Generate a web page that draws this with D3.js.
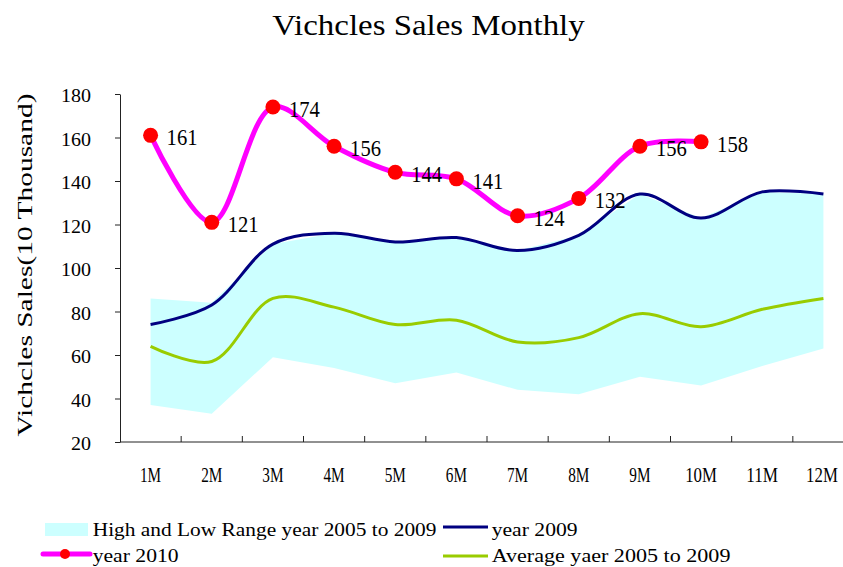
<!DOCTYPE html>
<html>
<head>
<meta charset="utf-8">
<script src="https://cdn.jsdelivr.net/npm/d3@7"></script>
<style>
    body { margin: 0; background: #fff; }
    svg { display: block; }
    text { font-family: "Liberation Serif", serif; fill: #000; }
</style>
</head>
<body>
<svg id="chart" width="843" height="567"></svg>
<script>
const months = ["1M", "2M", "3M", "4M", "5M", "6M", "7M", "8M", "9M", "10M", "11M", "12M"]
const rangeHigh = [86, 84, 111, 116, 112, 114, 108, 115, 134, 123, 135, 134]
const rangeLow = [37, 33, 59, 54, 47, 52, 44, 42, 50, 46, 55, 63]
const year2009 = [74, 83, 111, 116, 112, 114, 108, 115, 134, 123, 135, 134]
const average = [64, 57, 86, 82, 74, 76, 66, 68, 79, 73, 81, 86]
const year2010 = [161, 121, 174, 156, 144, 141, 124, 132, 156, 158]
const yTicks = [20, 40, 60, 80, 100, 120, 140, 160, 180]

const svg = d3.select("#chart")

const x = d3.scaleBand().domain(months).range([120, 854])
const y = d3.scaleLinear().domain([20, 180]).range([442, 94])
const cx = m => x(m) + x.bandwidth() / 2

// fixed-width text, the original uses a half-width CJK font
const label = (g, str, cw, size) => g
    .text(str)
    .attr("font-size", size)
    .attr("textLength", str.length * cw)
    .attr("lengthAdjust", "spacingAndGlyphs")

// range band
const area = d3.area()
    .x((d, i) => cx(months[i]))
    .y0((d, i) => y(rangeLow[i]))
    .y1(d => y(d))

svg.append("path")
    .datum(rangeHigh)
    .attr("fill", "#CCFFFF")
    .attr("d", area)

const drawLine = (data, color, width) => {
    const line = d3.line()
        .curve(d3.curveCatmullRom.alpha(0.5))
        .x((d, i) => cx(months[i]))
        .y(d => y(d))

    svg.append("path")
        .datum(data)
        .attr("fill", "none")
        .attr("stroke", color)
        .attr("stroke-width", width)
        .attr("stroke-linejoin", "round")
        .attr("d", line)
}

drawLine(year2009, "#000080", 3)
drawLine(average, "#99CC00", 3)
drawLine(year2010, "#FF00FF", 5)

svg.selectAll("circle.pt")
    .data(year2010)
    .enter()
    .append("circle")
    .attr("class", "pt")
    .attr("cx", (d, i) => cx(months[i]))
    .attr("cy", d => y(d))
    .attr("r", 7.5)
    .attr("fill", "#FF0000")

svg.selectAll("text.val")
    .data(year2010)
    .enter()
    .append("text")
    .attr("class", "val")
    .attr("x", (d, i) => cx(months[i]) + 16)
    .attr("y", d => y(d) + 10)
    .each(function (d) { label(d3.select(this), String(d), 10.3, 23) })

// y axis
const yAxis = svg.append("g")
    .attr("transform", "translate(120,0)")
    .call(d3.axisLeft(y).tickValues(yTicks).tickSize(5).tickPadding(24).tickSizeOuter(0))

yAxis.select(".domain").attr("stroke", "#222")
yAxis.selectAll(".tick line").attr("stroke", "#222")
yAxis.selectAll(".tick text")
    .attr("dy", "0.42em")
    .attr("fill", "#000")
    .each(function (d) { label(d3.select(this), String(d), 10, 19) })

// x axis, ticks sit between categories and point into the plot
svg.append("line")
    .attr("x1", 120).attr("x2", 854)
    .attr("y1", y(20)).attr("y2", y(20))
    .attr("stroke", "#222")

svg.selectAll("line.xt")
    .data(months.slice(1).concat(["end"]))
    .enter()
    .append("line")
    .attr("class", "xt")
    .attr("x1", d => d === "end" ? 854 : x(d))
    .attr("x2", d => d === "end" ? 854 : x(d))
    .attr("y1", y(20))
    .attr("y2", y(20) - 6)
    .attr("stroke", "#222")

svg.selectAll("text.xl")
    .data(months)
    .enter()
    .append("text")
    .attr("class", "xl")
    .attr("x", d => Math.min(cx(d), 822))
    .attr("y", 482)
    .attr("text-anchor", "middle")
    .each(function (d) { label(d3.select(this), d, 10.6, 21) })

// titles
svg.append("text")
    .attr("x", 428.5)
    .attr("y", 35)
    .attr("text-anchor", "middle")
    .call(label, "Vichcles Sales Monthly", 14.2, 29)

svg.append("text")
    .attr("transform", "translate(32,265) rotate(-90)")
    .attr("text-anchor", "middle")
    .call(label, "Vichcles Sales(10 Thousand)", 12.7, 22)

// legend
const legend = svg.append("g")

legend.append("rect")
    .attr("x", 45).attr("y", 523)
    .attr("width", 43).attr("height", 13)
    .attr("fill", "#CCFFFF")

legend.append("line")
    .attr("x1", 443).attr("x2", 488)
    .attr("y1", 527).attr("y2", 527)
    .attr("stroke", "#000080").attr("stroke-width", 3)

legend.append("line")
    .attr("x1", 43).attr("x2", 90)
    .attr("y1", 554).attr("y2", 554)
    .attr("stroke", "#FF00FF").attr("stroke-width", 5)
    .attr("stroke-linecap", "round")

legend.append("circle")
    .attr("cx", 65).attr("cy", 554).attr("r", 5)
    .attr("fill", "#FF0000")

legend.append("line")
    .attr("x1", 443).attr("x2", 488)
    .attr("y1", 556).attr("y2", 556)
    .attr("stroke", "#99CC00").attr("stroke-width", 3)

const legendItems = [
    ["High and Low Range year 2005 to 2009", 92.7, 536],
    ["year 2009", 491.7, 536],
    ["year 2010", 92.7, 562],
    ["Average yaer 2005 to 2009", 491.7, 562]
]

legend.selectAll("text")
    .data(legendItems)
    .enter()
    .append("text")
    .attr("x", d => d[1])
    .attr("y", d => d[2])
    .each(function (d) { label(d3.select(this), d[0], 9.55, 19) })
</script>
</body>
</html>
